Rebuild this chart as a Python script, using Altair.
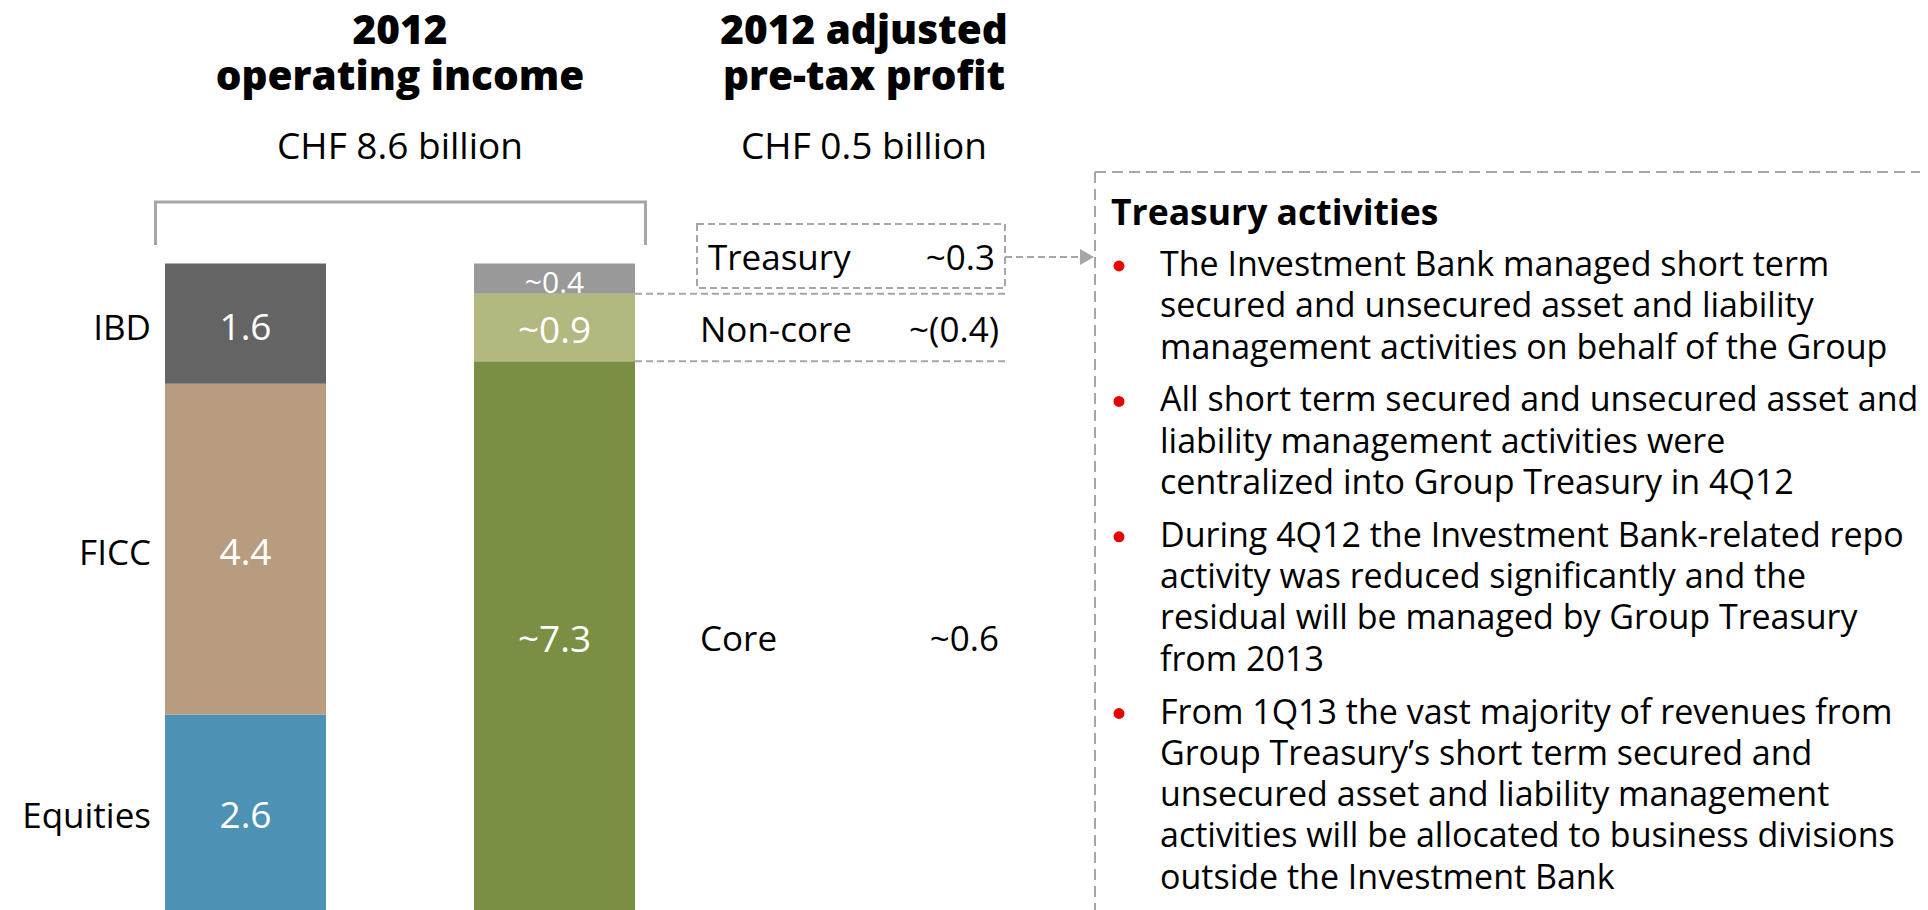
import altair as alt
import pandas as pd

# ---------------- data ----------------
columns = ["income", "profit"]
column_title_lines = [["2012", "operating income"], ["2012 adjusted", "pre-tax profit"]]
column_totals = ["CHF 8.6 billion", "CHF 0.5 billion"]

income_segments = ["Equities", "FICC", "IBD"]
income_values = [2.6, 4.4, 1.6]
income_labels = ["2.6", "4.4", "1.6"]

profit_segments = ["Core", "Non-core", "Treasury"]
profit_income_values = [7.3, 0.9, 0.4]
profit_income_labels = ["~7.3", "~0.9", "~0.4"]
profit_values = ["~0.6", "~(0.4)", "~0.3"]

box_title = "Treasury activities"
bullet_lines = [
    ["The Investment Bank managed short term",
     "secured and unsecured asset and liability",
     "management activities on behalf of the Group"],
    ["All short term secured and unsecured asset and",
     "liability management activities were",
     "centralized into Group Treasury in 4Q12"],
    ["During 4Q12 the Investment Bank-related repo",
     "activity was reduced significantly and the",
     "residual will be managed by Group Treasury",
     "from 2013"],
    ["From 1Q13 the vast majority of revenues from",
     "Group Treasury\u2019s short term secured and",
     "unsecured asset and liability management",
     "activities will be allocated to business divisions",
     "outside the Investment Bank"],
]

# ---------------- style / layout ----------------
FONT = "Open Sans"
W, H = 1912, 902
Y_MAX = 12.0
BAR_RANGE = [157, 627]
PAD_INNER = 0.479
GRAY = "#A6A6A6"
colors = {"Equities": "#4D91B5", "FICC": "#B89C80", "IBD": "#646464",
          "Core": "#7A8F43", "Non-core": "#B3B87E", "Treasury": "#999999"}
LABEL_SIZE = 35

rows = []
for i, (s, v, l) in enumerate(zip(income_segments, income_values, income_labels)):
    rows.append(dict(column="income", segment=s, value=v, label=l, order=i, ptp=""))
for i, (s, v, l, p) in enumerate(zip(profit_segments, profit_income_values, profit_income_labels, profit_values)):
    rows.append(dict(column="profit", segment=s, value=v, label=l, order=i, ptp=p))
bars_df = pd.DataFrame(rows)

xs = alt.X("column:N", scale=alt.Scale(domain=columns, range=BAR_RANGE,
                                         paddingInner=PAD_INNER, paddingOuter=0), axis=None)
yscale = alt.Scale(domain=[0, Y_MAX], nice=False, zero=True)

base = alt.Chart(bars_df).transform_stack(
    stack="value", groupby=["column"], as_=["y0", "y1"],
    sort=[alt.SortField("order", order="ascending")]
).transform_calculate(mid="(datum.y0 + datum.y1) / 2")

bars = base.mark_bar().encode(
    x=xs,
    y=alt.Y("y0:Q", scale=yscale, axis=None),
    y2="y1:Q",
    color=alt.Color("segment:N", scale=alt.Scale(domain=list(colors.keys()), range=list(colors.values())), legend=None),
)

bar_labels = base.mark_text(color="white", font=FONT, baseline="middle", dy=5).encode(
    x=xs,
    y=alt.Y("mid:Q", scale=yscale, axis=None),
    text="label:N",
    size=alt.condition("datum.value < 0.5", alt.value(30), alt.value(37)),
)

cat_labels = base.transform_filter("datum.column == 'income'").mark_text(
    align="right", baseline="middle", dy=5, font=FONT, fontSize=LABEL_SIZE, color="black"
).encode(x=alt.value(143), y=alt.Y("mid:Q", scale=yscale, axis=None), text="segment:N")

prof_rows = base.transform_filter("datum.column == 'profit' && datum.segment != 'Treasury'")
row_names = prof_rows.mark_text(align="left", baseline="middle", dy=4, font=FONT, fontSize=LABEL_SIZE, color="black").encode(
    x=alt.value(692), y=alt.Y("mid:Q", scale=yscale, axis=None), text="segment:N")
row_vals = prof_rows.mark_text(align="right", baseline="middle", dy=4, font=FONT, fontSize=LABEL_SIZE, color="black").encode(
    x=alt.value(991), y=alt.Y("mid:Q", scale=yscale, axis=None), text="ptp:N")

treas = base.transform_filter("datum.segment == 'Treasury'")
treas_name = treas.mark_text(align="left", baseline="middle", dy=4, font=FONT, fontSize=LABEL_SIZE, color="black").encode(
    x=alt.value(700), y=alt.value(247), text="segment:N")
treas_val = treas.mark_text(align="right", baseline="middle", dy=4, font=FONT, fontSize=LABEL_SIZE, color="black").encode(
    x=alt.value(987), y=alt.value(247), text="ptp:N")

# dashed separators at the boundaries of the profit segments
seps = base.transform_filter("datum.column == 'profit' && datum.order > 0").mark_rule(
    color=GRAY, strokeWidth=2, strokeDash=[7, 4]
).encode(x=alt.value(627), x2=alt.value(998), y=alt.Y("y0:Q", scale=yscale, axis=None))

one = pd.DataFrame({"k": [0]})
def rule(x, x2, y, y2, dash=None, width=3):
    kw = dict(color=GRAY, strokeWidth=width)
    if dash:
        kw["strokeDash"] = dash
    return alt.Chart(one).mark_rule(**kw).encode(
        x=alt.value(x), x2=alt.value(x2), y=alt.value(y), y2=alt.value(y2))

bracket = [rule(146, 639, 194, 194), rule(147.5, 147.5, 194, 237), rule(637.5, 637.5, 194, 237)]

treas_box = alt.Chart(one).mark_rect(fill="white", fillOpacity=0, stroke=GRAY, strokeWidth=2,
                                     strokeDash=[7, 4]).encode(
    x=alt.value(689), x2=alt.value(997), y=alt.value(216), y2=alt.value(280))
arrow_line = rule(997, 1072, 249, 249, dash=[7, 4], width=2)
arrow_head = alt.Chart(one).mark_point(shape="triangle-right", filled=True, color=GRAY, size=260, opacity=1).encode(
    x=alt.value(1079), y=alt.value(249))

panel = [rule(1087, 1087, 164, 902, dash=[11, 6], width=2), rule(1087, 1912, 164, 164, dash=[11, 6], width=2)]

# titles
title_rows = []
for ci, (lines, total) in enumerate(zip(column_title_lines, column_totals)):
    for li, t in enumerate(lines):
        title_rows.append(dict(text=t, col=ci, line=li, kind="title"))
    title_rows.append(dict(text=total, col=ci, line=2, kind="total"))
titles_df = pd.DataFrame(title_rows)
title_cx = [392, 856]
title_y = [36, 82, 151]
titles_df["px"] = [title_cx[c] for c in titles_df["col"]]
titles_df["py"] = [title_y[l] for l in titles_df["line"]]

titles = alt.Chart(titles_df).transform_filter("datum.kind == 'title'").mark_text(
    align="center", baseline="alphabetic", font=FONT, fontSize=40.5, fontWeight=800, color="black"
).encode(x=alt.X("px:Q", scale=None), y=alt.Y("py:Q", scale=None), text="text:N")
totals = alt.Chart(titles_df).transform_filter("datum.kind == 'total'").mark_text(
    align="center", baseline="alphabetic", font=FONT, fontSize=37, color="black"
).encode(x=alt.X("px:Q", scale=None), y=alt.Y("py:Q", scale=None), text="text:N")

# bullet text
LINE0, LH, GAP = 268, 41.3, 11.5
brow, bdots = [], []
y = LINE0
for bi, lines in enumerate(bullet_lines):
    bdots.append(dict(b=bi, py=y - 10))
    for li, t in enumerate(lines):
        brow.append(dict(text=t, py=y))
        y += LH
    y += GAP
brow_df = pd.DataFrame(brow)
bdots_df = pd.DataFrame(bdots)

btext = alt.Chart(brow_df).mark_text(align="left", baseline="alphabetic", font=FONT, fontSize=34, color="black").encode(
    x=alt.value(1152), y=alt.Y("py:Q", scale=None), text="text:N")
bdot = alt.Chart(bdots_df).mark_point(shape="circle", filled=True, color="#E60000", size=120, opacity=1).encode(
    x=alt.value(1111), y=alt.Y("py:Q", scale=None))
btitle = alt.Chart(one).mark_text(align="left", baseline="alphabetic", font=FONT, fontSize=35.5, fontWeight="bold",
                                  color="black").encode(x=alt.value(1103), y=alt.value(216.5), text=alt.value(box_title))

chart = alt.layer(
    bars, bar_labels, cat_labels, row_names, row_vals, treas_name, treas_val, seps,
    *bracket, treas_box, arrow_line, arrow_head, *panel, titles, totals, btext, bdot, btitle
).properties(
    width=W, height=H, autosize=alt.AutoSizeParams(type="none"), padding=0,
).configure_view(stroke=None)

chart.save("out.html", embed_options={"renderer": "svg", "actions": False})
